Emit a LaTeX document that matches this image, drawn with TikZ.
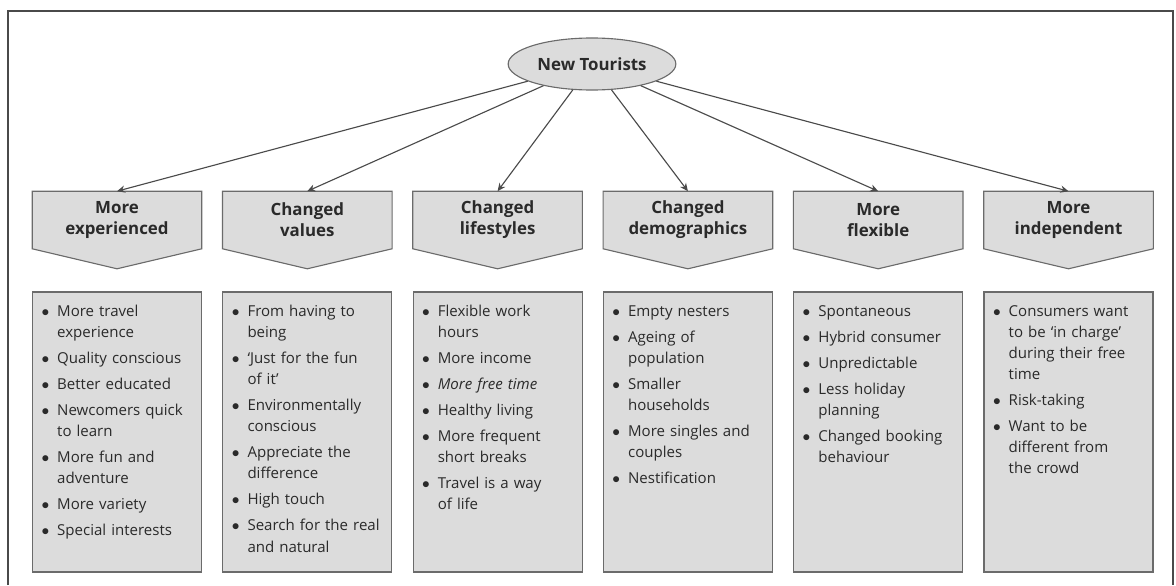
\documentclass[tikz,border=0pt]{standalone}
\usepackage{fontspec}
\setmainfont{Open Sans}
\usetikzlibrary{arrows.meta,shapes.geometric,backgrounds,calc}
\definecolor{ink}{HTML}{2A2A2A}
\definecolor{edge}{HTML}{6B6B6B}
\definecolor{panel}{HTML}{DCDCDC}
\definecolor{rule}{HTML}{4A4A4A}
\newenvironment{points}{\begin{list}{$\bullet$}{%
  \setlength\leftmargin{0.475cm}\setlength\labelsep{0.2cm}\setlength\labelwidth{0.275cm}%
  \setlength\itemsep{3.5pt}\setlength\parsep{0pt}\setlength\topsep{0pt}\setlength\partopsep{0pt}}%
  \raggedright}{\end{list}}
\tikzset{
  head/.style={minimum width=4.225cm, minimum height=1.425cm, inner sep=0pt, align=center,
    text width=4cm, font=\fontsize{12}{15}\selectfont\bfseries, text=ink},
  headfill/.style={fill=panel, draw=edge, line width=0.8pt},
  bodybox/.style={fill=panel, draw=edge, line width=0.8pt, minimum width=4.225cm, minimum height=7cm, inner sep=0pt},
  bodytext/.style={text width=3.925cm, inner sep=0pt, anchor=base west, font=\fontsize{10.7}{15}\selectfont, text=ink},
  arr/.style={-{Stealth[length=2mm,width=1.8mm]}, line width=0.8pt, draw=rule},
}
\begin{document}
\begin{tikzpicture}[x=0.025cm, y=-0.025cm]
  \useasboundingbox (0,0) rectangle (1176,585);
  \draw[rule, line width=0.9pt] (8,585) -- (8,11) -- (1173,11) -- (1173,585);

  \node[ellipse, fill=panel, draw=edge, line width=0.8pt, minimum width=4cm, minimum height=1.3cm,
    font=\fontsize{12}{14}\selectfont\bfseries, text=ink] (nt) at (592,64) {New Tourists};

  \foreach \i/\x/\t in {1/117/{More\\experienced}, 2/307.3/{Changed\\values}, 3/497.6/{Changed\\lifestyles},
      4/687.9/{Changed\\demographics}, 5/878.2/{More\\flexible}, 6/1068.5/{More\\independent}} {
    \node[head] (h\i) at (\x,220) {\t};
    \begin{scope}[on background layer]
      \filldraw[headfill] (h\i.north west) -- (h\i.north east) -- (h\i.south east)
        -- ($(h\i.south)+(0,20)$) -- (h\i.south west) -- cycle;
    \end{scope}
    \draw[arr] (nt) -- (h\i.north);
    \node[bodybox] (b\i) at (\x,432) {};
  }

  \node[bodytext] (t1) at ($(b1.north west)+(6,4)$) {\begin{points}
    \item More travel\\experience
    \item Quality conscious
    \item Better educated
    \item Newcomers quick\\to learn
    \item More fun and\\adventure
    \item More variety
    \item Special interests
  \end{points}};
  \node[bodytext] (t2) at ($(b2.north west)+(6,4)$) {\begin{points}
    \item From having to\\being
    \item ‘Just for the fun\\of it’
    \item Environmentally\\conscious
    \item Appreciate the\\difference
    \item High touch
    \item Search for the real\\and natural
  \end{points}};
  \node[bodytext] (t3) at ($(b3.north west)+(6,4)$) {\begin{points}
    \item Flexible work\\hours
    \item More income
    \item \textit{More free time}
    \item Healthy living
    \item More frequent\\short breaks
    \item Travel is a way\\of life
  \end{points}};
  \node[bodytext] (t4) at ($(b4.north west)+(6,4)$) {\begin{points}
    \item Empty nesters
    \item Ageing of\\population
    \item Smaller\\households
    \item More singles and\\couples
    \item Nestification
  \end{points}};
  \node[bodytext] (t5) at ($(b5.north west)+(6,4)$) {\begin{points}
    \item Spontaneous
    \item Hybrid consumer
    \item Unpredictable
    \item Less holiday\\planning
    \item Changed booking\\behaviour
  \end{points}};
  \node[bodytext] (t6) at ($(b6.north west)+(6,4)$) {\begin{points}
    \item Consumers want\\to be ‘in charge’\\during their free\\time
    \item Risk-taking
    \item Want to be\\different from\\the crowd
  \end{points}};
\end{tikzpicture}
\end{document}
